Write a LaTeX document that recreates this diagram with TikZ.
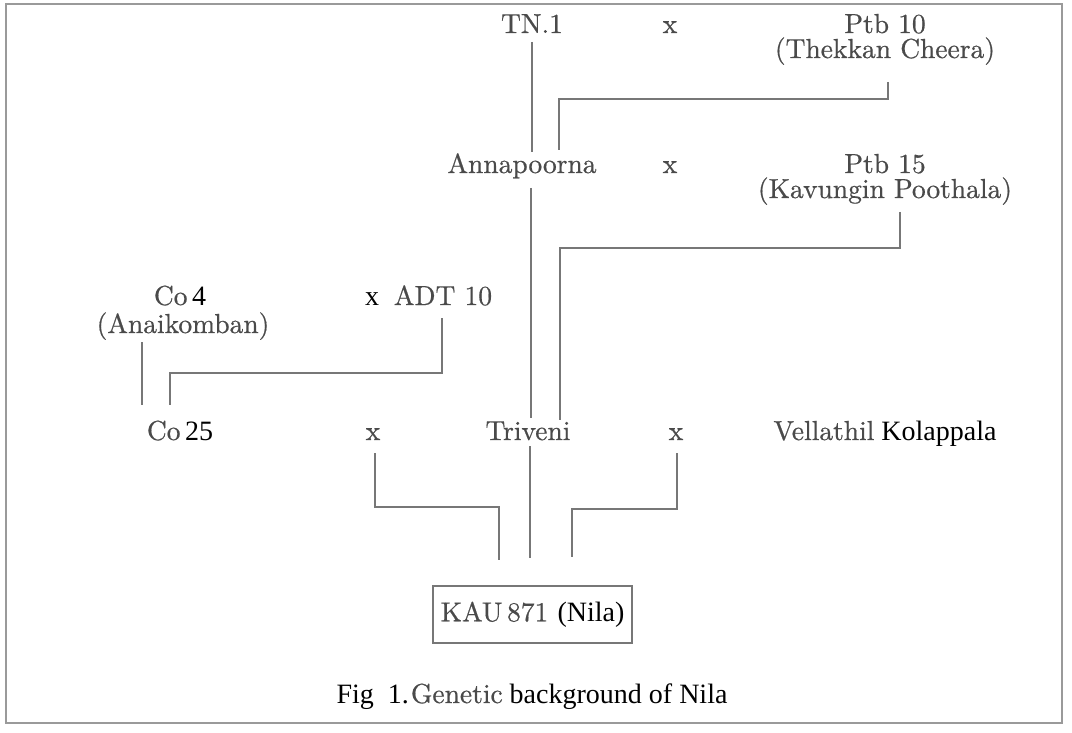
\documentclass[tikz,border=0pt]{standalone}
\usepackage{fontspec}
\newfontfamily\tms{Liberation Serif}
\newfontfamily\gfont{lmroman10-regular.otf}[FakeBold=0.6]
\definecolor{inkg}{HTML}{4A4A4A}
\definecolor{lineg}{HTML}{777777}
\definecolor{frameg}{HTML}{9A9A9A}
\newcommand\tm[1]{{\color{black}\tms\fontsize{28}{33}\selectfont #1}}
\begin{document}
\begin{tikzpicture}[x=1pt,y=1pt,
  lbl/.style={text=inkg, font=\gfont\fontsize{27.5}{32}\selectfont, inner sep=0pt, anchor=base},
  ln/.style={draw=lineg, line width=1.2pt},
  boxed/.style={draw=lineg, line width=1.2pt, text=inkg, font=\gfont\fontsize{27.5}{32}\selectfont,
     minimum width=199pt, minimum height=57pt, inner sep=0pt},
  frame/.style={draw=frameg, line width=1.5pt}]
\useasboundingbox (0,0) rectangle (1072,-733);
\draw[frame] (6,-4) rectangle (1062,-723);

% row 1
\node[lbl] (tn) at (532,-33) {TN.1};
\node[lbl] (x1) at (670,-33) {x};
\node[lbl] (ptb10) at (885,-33) {Ptb 10};
\node[lbl] (ptb10n) at (885,-58) {(Thekkan Cheera)};
% row 2
\node[lbl] (ann) at (522,-173) {Annapoorna};
\node[lbl] (x2) at (670,-173) {x};
\node[lbl] (ptb15) at (885,-173) {Ptb 15};
\node[lbl] (ptb15n) at (885,-198) {(Kavungin Poothala)};
% row 3
\node[lbl] (co4) at (180,-305) {Co\,\tm{4}};
\node[lbl] (co4n) at (183,-333) {(Anaikomban)};
\node[lbl] (x3) at (372,-305) {\tm{x}};
\node[lbl] (adt) at (443,-305) {ADT 10};
% row 4
\node[lbl] (co25) at (180,-440) {Co\,\tm{25}};
\node[lbl] (x4) at (373,-440) {x};
\node[lbl] (tri) at (528,-440) {Triveni};
\node[lbl] (x5) at (676,-440) {x};
\node[lbl] (vel) at (885,-440) {Vellathil\hspace{7pt}\tm{Kolappala}};
% result
\node[boxed] (kau) at (532.5,-614.5) {KAU\,871 \tm{(Nila)}};
% caption
\node[lbl] (cap) at (532,-703) {\tm{Fig\hspace{14pt}1.}\hspace{2pt}Genetic\tm{ background of Nila}};

% connector end points
\coordinate (tn-d) at (532,-42);
\coordinate (ann-u1) at (532,-152);
\coordinate (p10-d) at (888,-82);
\coordinate (p10-k) at (888,-99);
\coordinate (ann-k) at (559,-99);
\coordinate (ann-u2) at (559,-150);
\coordinate (ann-d) at (531,-188);
\coordinate (tri-u1) at (531,-418);
\coordinate (p15-d) at (900,-212);
\coordinate (p15-k) at (900,-248);
\coordinate (tri-k) at (560,-248);
\coordinate (tri-u2) at (560,-420);
\coordinate (co4-d) at (142,-342);
\coordinate (co25-u1) at (142,-405);
\coordinate (adt-d) at (442,-318);
\coordinate (adt-k) at (442,-373);
\coordinate (co25-k) at (170,-373);
\coordinate (co25-u2) at (170,-405);
\coordinate (x4-d) at (375,-453);
\coordinate (x4-k) at (375,-507);
\coordinate (kau-k1) at (499,-507);
\coordinate (kau-u1) at (499,-560);
\coordinate (tri-d) at (530,-446);
\coordinate (kau-u2) at (530,-558);
\coordinate (x5-d) at (677,-453);
\coordinate (x5-k) at (677,-509);
\coordinate (kau-k3) at (572,-509);
\coordinate (kau-u3) at (572,-557);

\draw[ln] (tn-d) -- (ann-u1);
\draw[ln] (p10-d) -- (p10-k) -- (ann-k) -- (ann-u2);
\draw[ln] (ann-d) -- (tri-u1);
\draw[ln] (p15-d) -- (p15-k) -- (tri-k) -- (tri-u2);
\draw[ln] (co4-d) -- (co25-u1);
\draw[ln] (adt-d) -- (adt-k) -- (co25-k) -- (co25-u2);
\draw[ln] (x4-d) -- (x4-k) -- (kau-k1) -- (kau-u1);
\draw[ln] (tri-d) -- (kau-u2);
\draw[ln] (x5-d) -- (x5-k) -- (kau-k3) -- (kau-u3);
\end{tikzpicture}
\end{document}
